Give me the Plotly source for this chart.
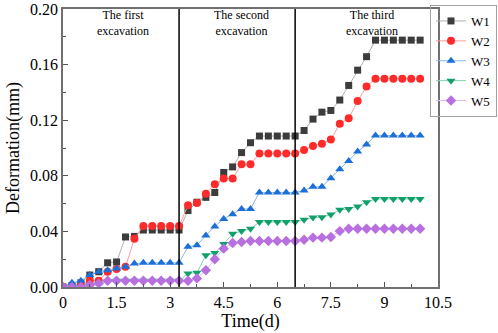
import plotly.graph_objects as go

time_d = [0, 0.25, 0.5, 0.75, 1.0, 1.25, 1.5, 1.75, 2.0, 2.25, 2.5, 2.75, 3.0, 3.25,
          3.5, 3.75, 4.0, 4.25, 4.5, 4.75, 5.0, 5.25, 5.5, 5.75, 6.0, 6.25, 6.5,
          6.75, 7.0, 7.25, 7.5, 7.75, 8.0, 8.25, 8.5, 8.75, 9.0, 9.25, 9.5, 9.75, 10.0]

W1 = [0, 0.001, 0.003, 0.0086, 0.011, 0.0174, 0.018, 0.036, 0.0364,
      0.041, 0.041, 0.041, 0.041, 0.041,
      0.055, 0.061, 0.0645, 0.068, 0.0824, 0.0864, 0.0967, 0.1038,
      0.1086, 0.1086, 0.1086, 0.1086, 0.1086,
      0.1126, 0.1208, 0.1258, 0.127, 0.1345, 0.145, 0.156, 0.1657,
      0.1776, 0.1776, 0.1776, 0.1776, 0.1776, 0.1776]

W2 = [0, 0, 0.001, 0.0045, 0.0045, 0.011, 0.013, 0.0145, 0.0348,
      0.0438, 0.0438, 0.0438, 0.0438, 0.0438,
      0.0588, 0.0605, 0.067, 0.074, 0.078, 0.078, 0.0883, 0.0883,
      0.096, 0.096, 0.096, 0.096, 0.096,
      0.0986, 0.1015, 0.1031, 0.1062, 0.1174, 0.1214, 0.1338, 0.1443,
      0.1498, 0.1498, 0.1498, 0.1498, 0.1498, 0.1498]

W3 = [0, 0.003, 0.0045, 0.0086, 0.011, 0.012, 0.0133, 0.0145, 0.0169,
      0.0174, 0.0174, 0.0174, 0.0174, 0.0174,
      0.029, 0.030, 0.0371, 0.0436, 0.049, 0.0523, 0.0562, 0.0562,
      0.068, 0.068, 0.068, 0.068, 0.068,
      0.0695, 0.0721, 0.0721, 0.0783, 0.0848, 0.0907, 0.0974, 0.1026,
      0.109, 0.109, 0.109, 0.109, 0.109, 0.109]

W4 = [0, 0, 0, 0.001, 0.002, 0.004, 0.0045, 0.0045, 0.0045,
      0.0045, 0.0045, 0.0045, 0.0045, 0.0045,
      0.0098, 0.0102, 0.0229, 0.0245, 0.031, 0.0383, 0.0402, 0.0419,
      0.0467, 0.0467, 0.0467, 0.0467, 0.0467,
      0.0483, 0.0500, 0.0502, 0.0521, 0.0555, 0.0561, 0.058, 0.061,
      0.0633, 0.0633, 0.0633, 0.0633, 0.0633, 0.0633]

W5 = [0, 0, 0, 0.0014, 0.0026, 0.0045, 0.0045, 0.0045, 0.0045,
      0.0045, 0.0045, 0.0045, 0.0045, 0.0045,
      0.0045, 0.0062, 0.0121, 0.020, 0.0276, 0.0317, 0.0324, 0.0331,
      0.0331, 0.0331, 0.0331, 0.0331, 0.0331,
      0.034, 0.0355, 0.0355, 0.036, 0.0402, 0.0419, 0.0419, 0.0419,
      0.0419, 0.0419, 0.0419, 0.0419, 0.0419, 0.0419]

series_names = ["W1", "W2", "W3", "W4", "W5"]
series_values = [W1, W2, W3, W4, W5]

stage_bounds = [3.25, 6.5]
stage_labels = ["The first<br>excavation", "The second<br>excavation", "The third<br>excavation"]

x_ticks = [0, 1.5, 3, 4.5, 6, 7.5, 9, 10.5]
x_tick_text = ["0", "1.5", "3", "4.5", "6", "7.5", "9", "10.5"]
y_ticks = [0.00, 0.04, 0.08, 0.12, 0.16, 0.20]
y_tick_text = ["0.00", "0.04", "0.08", "0.12", "0.16", "0.20"]

FONT = "Times New Roman, Liberation Serif, serif"

styles = [
    dict(symbol="square", size=7, color="#3c3c3c", line="#b0b0b0"),
    dict(symbol="circle", size=8, color="#ff2b2b", line="#ff9c9c"),
    dict(symbol="triangle-up", size=8, color="#1a6fd8", line="#8ab8ee"),
    dict(symbol="triangle-down", size=8, color="#12a06a", line="#86d0b4"),
    dict(symbol="diamond", size=8, color="#b86fe0", line="#dcb8f0"),
]

fig = go.Figure()
for name, vals, st in zip(series_names, series_values, styles):
    fig.add_trace(go.Scatter(
        x=time_d, y=vals, name=name, mode="lines+markers",
        line=dict(color=st["line"], width=1),
        marker=dict(symbol=st["symbol"], size=st["size"], color=st["color"],
                    line=dict(width=0)),
    ))

for b in stage_bounds:
    fig.add_shape(type="line", xref="x", yref="paper", x0=b, x1=b, y0=0, y1=1,
                  line=dict(color="black", width=1.5))

label_x = [1.68, 5.0, 8.65]
for lx, txt in zip(label_x, stage_labels):
    fig.add_annotation(x=lx, y=0.95, xref="x", yref="paper", text=txt, showarrow=False,
                       font=dict(family=FONT, size=12, color="black"), yanchor="middle")

axis_common = dict(
    showline=True, linecolor="#707070", linewidth=1.5, mirror=True,
    ticks="inside", ticklen=5, tickwidth=1, tickcolor="#555555",
    showgrid=False, zeroline=False, automargin=False, ticklabeloverflow="allow",
    tickfont=dict(family=FONT, size=16, color="black"),
)

fig.update_xaxes(range=[0, 10.5], tickvals=x_ticks, ticktext=x_tick_text,
                 minor=dict(ticks="inside", ticklen=3, dtick=0.75, tickcolor="#555555"),
                 title=dict(text="Time(d)", font=dict(family=FONT, size=18, color="black"), standoff=3),
                 **axis_common)
fig.update_yaxes(range=[0, 0.20], tickvals=y_ticks, ticktext=y_tick_text,
                 minor=dict(ticks="inside", ticklen=3, dtick=0.02, tickcolor="#555555"),
                 title=dict(text="Deformation(mm)", font=dict(family=FONT, size=18, color="black"), standoff=6),
                 **axis_common)

fig.update_layout(
    width=498, height=333,
    margin=dict(l=63, r=60, t=9, b=46, autoexpand=False),
    plot_bgcolor="white", paper_bgcolor="white",
    font=dict(family=FONT, color="black"),
    legend=dict(x=0.998, xref="container", xanchor="right", y=0.985, yref="container", yanchor="top",
                bordercolor="#a0a0a0", borderwidth=1, bgcolor="rgba(255,255,255,0)",
                font=dict(family=FONT, size=13, color="black"),
                itemwidth=30, tracegroupgap=0),
    showlegend=True,
)

fig.write_html("out.html", config={"displayModeBar": False},
               post_script="document.body.style.margin='0';document.body.style.overflow='hidden';")
